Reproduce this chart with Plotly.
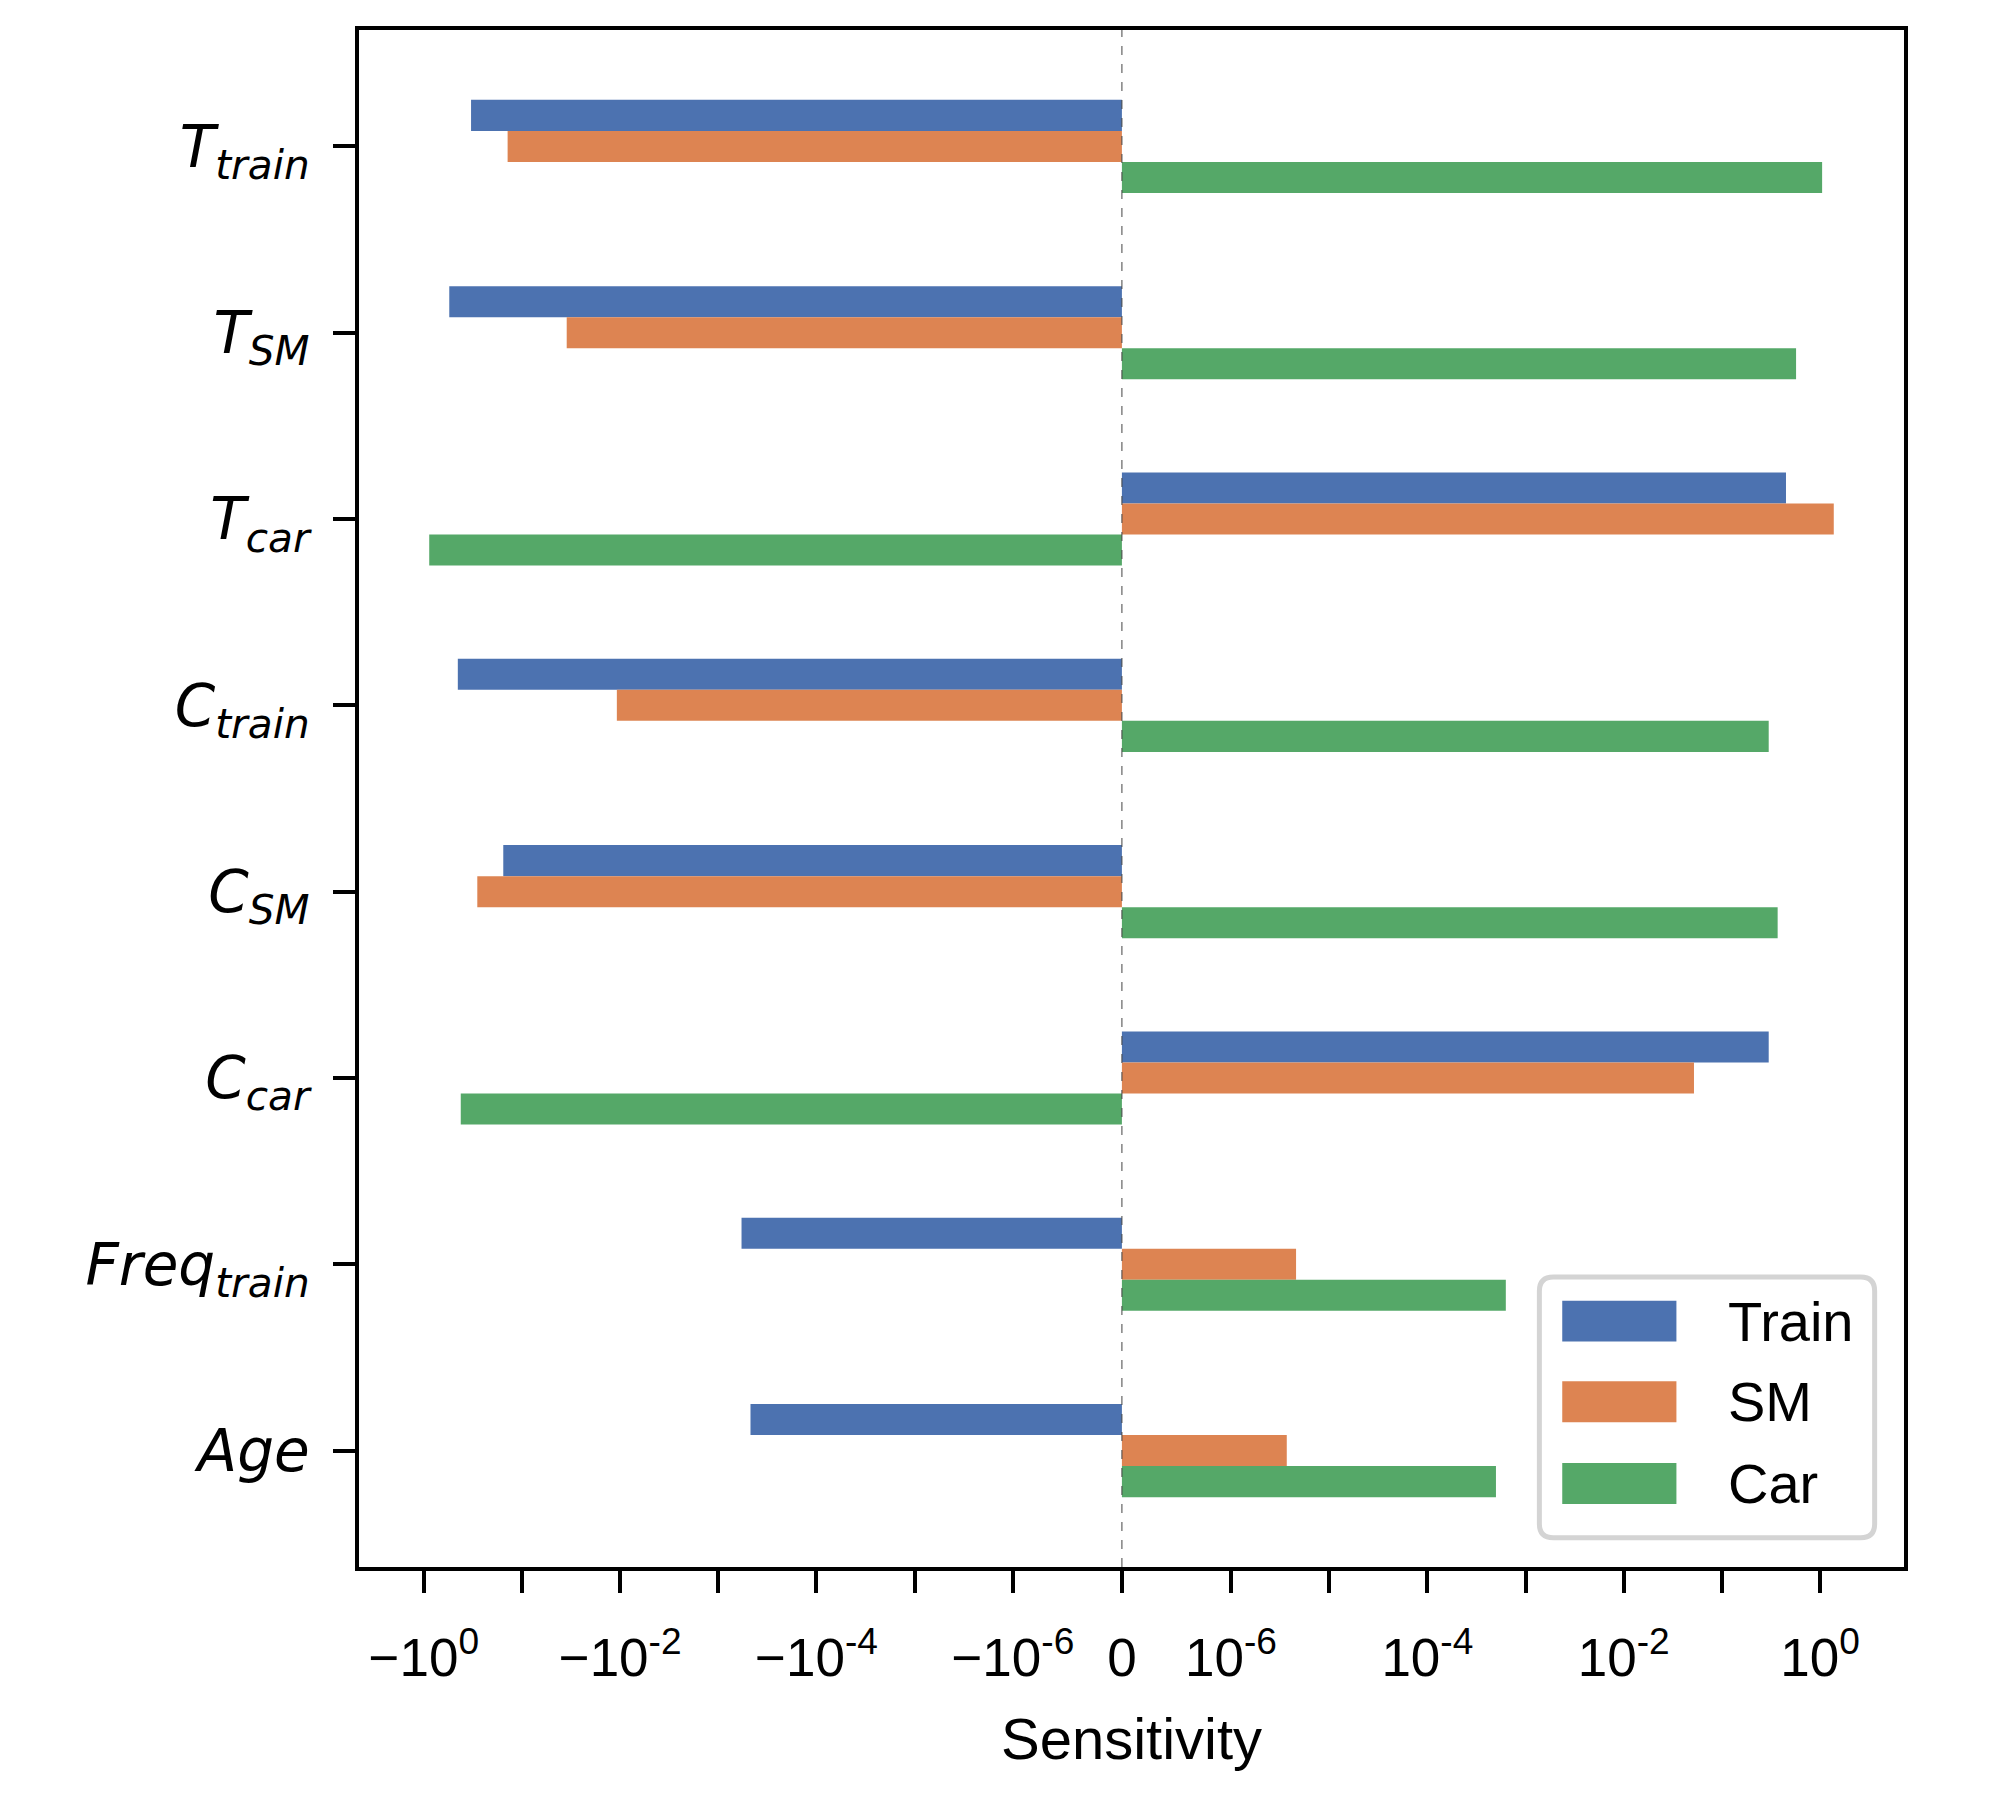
import numpy as np
import plotly.graph_objects as go

# sensitivity of each mode's utility to each attribute
features = ['T_train', 'T_SM', 'T_car', 'C_train', 'C_SM', 'C_car', 'Freq_train', 'Age']
feature_labels = ['<i>T<sub>train</sub></i>', '<i>T<sub>SM</sub></i>', '<i>T<sub>car</sub></i>',
                  '<i>C<sub>train</sub></i>', '<i>C<sub>SM</sub></i>', '<i>C<sub>car</sub></i>',
                  '<i>Freq<sub>train</sub></i>', '<i>Age</i>']
series_names = ['Train', 'SM', 'Car']
train_vals = [-0.33, -0.55, 0.45, -0.45, -0.155, 0.30, -5.8e-4, -4.7e-4]
sm_vals = [-0.14, -0.035, 1.38, -0.0108, -0.285, 0.052, 4.6e-6, 3.7e-6]
car_vals = [1.05, 0.57, -0.88, 0.30, 0.37, -0.42, 6.3e-4, 5.0e-4]
colors = ['#4C72B0', '#DD8452', '#55A868']

# symlog axis like matplotlib (linthresh=1e-6, linscale=1)
LINTHRESH = 1e-6
LINSCALE = 1.0 / (1.0 - 1.0 / 10.0)


def symlog(v):
    v = np.asarray(v, dtype=float)
    a = np.abs(v)
    out = np.where(a <= LINTHRESH, v / LINTHRESH * LINSCALE,
                   np.sign(v) * (LINSCALE + np.log10(np.maximum(a, LINTHRESH) / LINTHRESH)))
    return out


def sup(e):
    return '<sup>%d</sup>' % e


tick_exps = [0, -1, -2, -3, -4, -5, -6]
tick_vals, tick_text = [], []
for e in tick_exps:
    tick_vals.append(-10.0 ** e)
    tick_text.append('\u221210' + sup(e) if e % 2 == 0 else '')
tick_vals.append(0.0)
tick_text.append('0')
for e in reversed(tick_exps):
    tick_vals.append(10.0 ** e)
    tick_text.append('10' + sup(e) if e % 2 == 0 else '')

W, H = 1998, 1801
M = dict(l=351, r=102, t=22, b=242)

fig = go.Figure()
ypos = np.arange(len(features))
for name, vals, c in zip(series_names, [train_vals, sm_vals, car_vals], colors):
    fig.add_trace(go.Bar(y=ypos, x=symlog(vals), orientation='h', name=name,
                         marker=dict(color=c, line=dict(width=0)),
                         customdata=vals, hovertemplate='%{customdata}<extra>' + name + '</extra>'))

allx = symlog(train_vals + sm_vals + car_vals)
lo, hi = min(allx.min(), 0), max(allx.max(), 0)
pad = 0.05 * (hi - lo)

fig.add_vline(x=0, line_width=1, line_dash='dash', line_color='#444444')

# legend drawn like matplotlib's (big patches, rounded grey frame)
x0, x1, y0, y1 = 0.764, 0.981, 0.019, 0.1886
rx = 14 / (W - M['l'] - M['r'])
ry = 14 / (H - M['t'] - M['b'])
frame = ('M %f,%f L %f,%f Q %f,%f %f,%f L %f,%f Q %f,%f %f,%f L %f,%f Q %f,%f %f,%f L %f,%f Q %f,%f %f,%f Z'
         % (x0 + rx, y0, x1 - rx, y0, x1, y0, x1, y0 + ry, x1, y1 - ry, x1, y1, x1 - rx, y1,
            x0 + rx, y1, x0, y1, x0, y1 - ry, x0, y0 + ry, x0, y0, x0 + rx, y0))
fig.add_shape(type='path', path=frame, xref='paper', yref='paper',
              line=dict(color='#d4d4d4', width=5), fillcolor='white', layer='above')
rows_y = [0.160, 0.1075, 0.0543]
for name, c, yy in zip(series_names, colors, rows_y):
    fig.add_shape(type='rect', xref='paper', yref='paper', x0=0.7788, x1=0.8527,
                  y0=yy - 0.0133, y1=yy + 0.0133, line=dict(width=0), fillcolor=c, layer='above')
    fig.add_annotation(x=0.885, y=yy, xref='paper', yref='paper', text=name, showarrow=False,
                       xanchor='left', yanchor='middle',
                       font=dict(family='Liberation Sans, Arial', size=56, color='black'))

fig.update_layout(
    width=W, height=H,
    margin=M,
    plot_bgcolor='white', paper_bgcolor='white',
    barmode='group', bargap=0.5, bargroupgap=0,
    showlegend=False,
    font=dict(family='Liberation Sans, Arial', color='black'),
)
fig.update_xaxes(range=[lo - pad, hi + pad], tickmode='array', tickvals=symlog(tick_vals), ticktext=tick_text,
                 showgrid=False, zeroline=False, showline=True, mirror=True, linecolor='black', linewidth=3.5,
                 ticks='outside', ticklen=22, tickwidth=3.5, tickcolor='black', ticklabelstandoff=20,
                 tickfont=dict(family='Liberation Sans, Arial', size=53),
                 title=dict(text='Sensitivity', font=dict(family='Liberation Sans, Arial', size=58), standoff=33))
fig.update_yaxes(range=[len(features) - 1 + 0.625, -0.625], tickmode='array', tickvals=ypos, ticktext=feature_labels,
                 showgrid=False, zeroline=False, showline=True, mirror=True, linecolor='black', linewidth=3.5,
                 ticks='outside', ticklen=22, tickwidth=3.5, tickcolor='black', ticklabelstandoff=12,
                 tickfont=dict(family='DejaVu Sans', size=58))

fig.write_html("out.html")
